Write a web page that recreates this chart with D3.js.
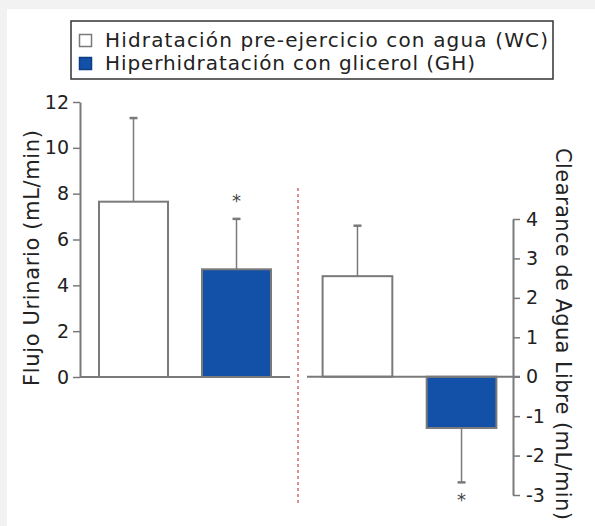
<!DOCTYPE html>
<html>
<head>
<meta charset="utf-8">
<script src="https://cdn.jsdelivr.net/npm/d3@7"></script>
<style>
  body { margin: 0; background: #f2f2f2; }
  svg { display: block; font-family: "DejaVu Sans", Verdana, sans-serif; }
</style>
</head>
<body>
<div id="chart"></div>
<script>
// data
var groups = ["WC", "GH"];
var seriesNames = ["Hidratación pre-ejercicio con agua (WC)", "Hiperhidratación con glicerol (GH)"];
var seriesColors = ["#ffffff", "#1350a8"];
var flujoValues = [7.65, 4.7];
var flujoErrors = [3.65, 2.2];
var clearanceValues = [2.55, -1.3];
var clearanceErrors = [1.28, 1.38];
var significant = [false, true];
var flujoTicks = [0, 2, 4, 6, 8, 10, 12];
var clearanceTicks = [-3, -2, -1, 0, 1, 2, 3, 4];
var flujoLabel = "Flujo Urinario (mL/min)";
var clearanceLabel = "Clearance de Agua Libre (mL/min)";

var width = 595, height = 526;
var grey = "#7a7a7a";

var svg = d3.select("#chart")
    .append("svg")
    .attr("width", width)
    .attr("height", height);

// white panel
svg.append("rect")
    .attr("x", 7).attr("y", 9)
    .attr("width", width - 7).attr("height", height - 9)
    .attr("fill", "#fff");

// legend
var legend = svg.append("g");
legend.append("rect")
    .attr("x", 71).attr("y", 21)
    .attr("width", 482).attr("height", 58)
    .attr("fill", "#fff")
    .attr("stroke", "#333")
    .attr("stroke-width", 1.5);

var legendWidths = [443, 370];
seriesNames.forEach(function(name, i) {
  var y = 34 + i * 23;
  legend.append("rect")
      .attr("x", 79.5).attr("y", y + 0.5)
      .attr("width", 12).attr("height", 12)
      .attr("fill", seriesColors[i])
      .attr("stroke", i == 0 ? grey : "#0c3d85")
      .attr("stroke-width", 1.5);
  legend.append("text")
      .attr("x", 105).attr("y", y + 13)
      .attr("font-size", 20)
      .attr("fill", "#222")
      .attr("textLength", legendWidths[i])
      .attr("lengthAdjust", "spacing")
      .text(name);
});

// left panel: urinary flow
var yLeft = d3.scaleLinear().domain([0, 12]).range([377, 102]);
var xLeft = d3.scaleBand().domain(groups).range([82, 288])
    .paddingInner(0.33).paddingOuter(0.165);

// right panel: free water clearance
var yRight = d3.scaleLinear().domain([-3, 4]).range([495, 219]);
var xRight = d3.scaleBand().domain(groups).range([307, 512])
    .paddingInner(0.33).paddingOuter(0.15);

function drawPanel(x, y, values, errors, x0, x1) {
  var g = svg.append("g");

  // error bars
  groups.forEach(function(k, i) {
    var v = values[i], e = errors[i];
    var cx = x(k) + x.bandwidth() / 2;
    var tip = v >= 0 ? v + e : v - e;
    g.append("line")
        .attr("x1", cx).attr("x2", cx)
        .attr("y1", y(v)).attr("y2", y(tip))
        .attr("stroke", grey).attr("stroke-width", 1.5);
    g.append("line")
        .attr("x1", cx - 4).attr("x2", cx + 4)
        .attr("y1", y(tip)).attr("y2", y(tip))
        .attr("stroke", grey).attr("stroke-width", 2.5);
    if (significant[i]) {
      g.append("text")
          .attr("x", cx)
          .attr("y", y(tip) + (v >= 0 ? -12 : 24))
          .attr("text-anchor", "middle")
          .attr("font-size", 18)
          .attr("fill", "#444")
          .text("*");
    }
  });

  g.selectAll("rect.bar")
      .data(values)
      .enter()
      .append("rect")
      .attr("class", "bar")
      .attr("x", function(d, i) { return x(groups[i]); })
      .attr("width", x.bandwidth())
      .attr("y", function(d) { return y(Math.max(0, d)); })
      .attr("height", function(d) { return Math.abs(y(d) - y(0)); })
      .attr("fill", function(d, i) { return seriesColors[i]; })
      .attr("stroke", grey)
      .attr("stroke-width", 2);

  // baseline
  g.append("line")
      .attr("x1", x0).attr("x2", x1)
      .attr("y1", y(0)).attr("y2", y(0))
      .attr("stroke", grey).attr("stroke-width", 2);
}

drawPanel(xLeft, yLeft, flujoValues, flujoErrors, 80, 290);
drawPanel(xRight, yRight, clearanceValues, clearanceErrors, 307, 520);

function styleAxis(g) {
  g.select(".domain").attr("stroke", grey).attr("stroke-width", 2);
  g.selectAll(".tick line").attr("stroke", grey).attr("stroke-width", 1.5);
  g.selectAll(".tick text")
      .attr("fill", "#222")
      .attr("font-size", 19)
      .attr("font-family", "DejaVu Sans, Verdana, sans-serif");
}

var plainFormat = function(d) { return d < 0 ? "-" + Math.abs(d) : String(d); };

svg.append("g")
    .attr("transform", "translate(80,0)")
    .call(d3.axisLeft(yLeft).tickValues(flujoTicks).tickFormat(plainFormat)
        .tickSize(7).tickSizeOuter(0).tickPadding(4))
    .call(styleAxis);

svg.append("g")
    .attr("transform", "translate(513,0)")
    .call(d3.axisRight(yRight).tickValues(clearanceTicks).tickFormat(plainFormat)
        .tickSize(7).tickSizeOuter(0).tickPadding(6))
    .call(styleAxis);

// axis titles
svg.append("text")
    .attr("transform", "translate(39,258) rotate(-90)")
    .attr("text-anchor", "middle")
    .attr("font-size", 21)
    .attr("fill", "#222")
    .attr("textLength", 256)
    .attr("lengthAdjust", "spacing")
    .text(flujoLabel);

svg.append("text")
    .attr("transform", "translate(556,334) rotate(90)")
    .attr("text-anchor", "middle")
    .attr("font-size", 21)
    .attr("fill", "#222")
    .attr("textLength", 372)
    .attr("lengthAdjust", "spacing")
    .text(clearanceLabel);

// divider between panels
svg.append("line")
    .attr("x1", 298).attr("x2", 298)
    .attr("y1", 188).attr("y2", 505)
    .attr("stroke", "#d96a6a")
    .attr("stroke-width", 1.5)
    .attr("stroke-dasharray", "3,3");
</script>
</body>
</html>
